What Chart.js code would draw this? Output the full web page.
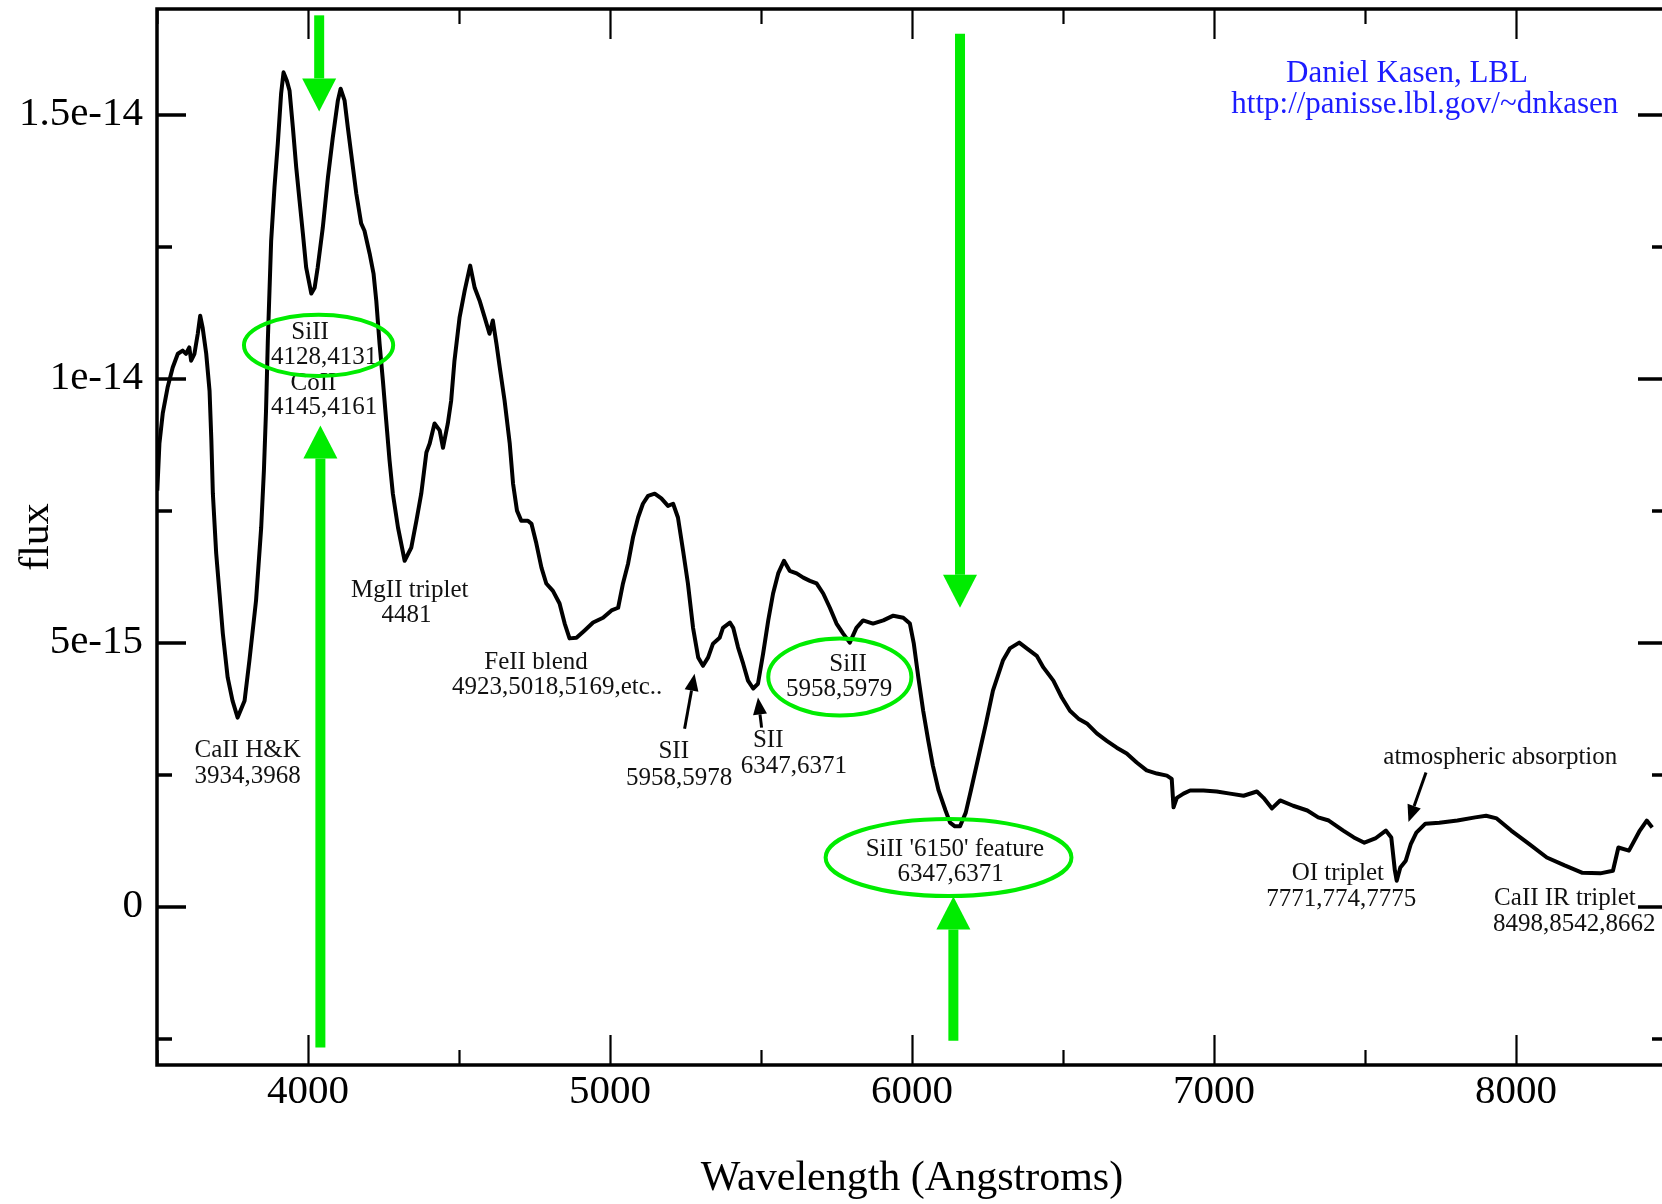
<!DOCTYPE html>
<html>
<head>
<meta charset="utf-8">
<title>Supernova spectrum</title>
<script src="https://cdn.jsdelivr.net/npm/chart.js@4.4.1/dist/chart.umd.min.js"></script>
<style>
  html, body { margin: 0; padding: 0; background: #fff; overflow: hidden; }
  canvas { display: block; }
</style>
</head>
<body>
<canvas id="spectrum" width="1670" height="1204"></canvas>
<script>
// Wavelength grid (Angstroms) and flux (in units of 1e-15)
const wavelength = [
  3501, 3508, 3519, 3535, 3552, 3569, 3585, 3596, 3607, 3613, 3624, 3635, 3643, 3651, 3663, 3674,
  3680, 3685, 3696, 3707, 3718, 3734, 3750, 3767, 3790, 3806, 3828, 3845, 3854, 3861, 3867, 3878,
  3889, 3900, 3911, 3919, 3930, 3939, 3950, 3961, 3972, 3983, 3994, 4011, 4022, 4032, 4049, 4066,
  4082, 4099, 4108, 4121, 4132, 4143, 4160, 4176, 4187, 4204, 4217, 4226, 4237, 4248, 4259, 4270,
  4281, 4298, 4320, 4342, 4359, 4375, 4392, 4403, 4419, 4436, 4447, 4463, 4474, 4485, 4502, 4519,
  4537, 4552, 4568, 4585, 4601, 4612, 4624, 4635, 4651, 4668, 4679, 4692, 4706, 4728, 4740, 4756,
  4773, 4789, 4811, 4833, 4850, 4866, 4889, 4916, 4944, 4977, 5005, 5027, 5043, 5060, 5076, 5093,
  5109, 5126, 5148, 5170, 5192, 5209, 5225, 5242, 5258, 5275, 5292, 5308, 5325, 5341, 5363, 5374,
  5397, 5408, 5424, 5441, 5457, 5474, 5490, 5507, 5524, 5540, 5557, 5576, 5595, 5618, 5640, 5662,
  5684, 5706, 5728, 5750, 5772, 5794, 5816, 5838, 5871, 5905, 5938, 5971, 5993, 6006, 6021, 6037,
  6054, 6069, 6088, 6111, 6126, 6142, 6159, 6178, 6195, 6212, 6245, 6268, 6301, 6324, 6355, 6380,
  6413, 6435, 6468, 6496, 6523, 6551, 6579, 6612, 6645, 6678, 6711, 6744, 6777, 6811, 6844, 6860,
  6866, 6877, 6899, 6921, 6965, 7009, 7053, 7098, 7142, 7164, 7192, 7219, 7262, 7309, 7345, 7380,
  7428, 7463, 7498, 7534, 7569, 7587, 7599, 7605, 7617, 7635, 7652, 7670, 7700, 7746, 7806, 7865,
  7901, 7936, 7984, 8043, 8102, 8161, 8220, 8279, 8321, 8339, 8374, 8410, 8433, 8451
];
const fluxE15 = [
  7.88, 8.77, 9.34, 9.83, 10.21, 10.47, 10.53, 10.47, 10.59, 10.34, 10.47, 10.85, 11.19, 10.97, 10.47, 9.77,
  8.83, 7.82, 6.69, 5.93, 5.17, 4.34, 3.90, 3.58, 3.90, 4.66, 5.80, 7.18, 8.26, 9.39, 10.72, 12.61,
  13.62, 14.45, 15.40, 15.80, 15.64, 15.45, 14.75, 14.00, 13.37, 12.75, 12.10, 11.61, 11.72, 12.10, 12.86, 13.81,
  14.56, 15.27, 15.49, 15.27, 14.75, 14.26, 13.50, 12.94, 12.80, 12.37, 11.99, 11.48, 10.66, 9.96, 9.20, 8.45,
  7.82, 7.18, 6.55, 6.80, 7.31, 7.82, 8.60, 8.77, 9.15, 9.02, 8.69, 9.15, 9.58, 10.34, 11.16, 11.67,
  12.14, 11.72, 11.48, 11.16, 10.85, 11.10, 10.66, 10.21, 9.58, 8.77, 8.01, 7.50, 7.31, 7.31, 7.25, 6.88,
  6.42, 6.12, 5.98, 5.74, 5.36, 5.08, 5.09, 5.23, 5.38, 5.47, 5.61, 5.66, 6.12, 6.50, 6.99, 7.37,
  7.63, 7.78, 7.82, 7.73, 7.59, 7.63, 7.37, 6.74, 6.12, 5.28, 4.72, 4.56, 4.72, 4.98, 5.09, 5.28,
  5.38, 5.28, 4.91, 4.60, 4.28, 4.13, 4.22, 4.79, 5.42, 5.93, 6.31, 6.55, 6.36, 6.31, 6.23, 6.17,
  6.12, 5.93, 5.66, 5.36, 5.17, 5.00, 5.28, 5.42, 5.36, 5.42, 5.51, 5.47, 5.36, 4.98, 4.34, 3.71,
  3.14, 2.67, 2.20, 1.82, 1.59, 1.52, 1.52, 1.78, 2.20, 2.63, 3.47, 4.09, 4.66, 4.89, 5.00, 4.89,
  4.75, 4.53, 4.28, 3.96, 3.71, 3.56, 3.47, 3.28, 3.14, 3.01, 2.90, 2.73, 2.58, 2.52, 2.48, 2.42,
  1.88, 2.06, 2.14, 2.20, 2.20, 2.18, 2.14, 2.10, 2.18, 2.06, 1.86, 2.01, 1.91, 1.82, 1.69, 1.63,
  1.44, 1.31, 1.21, 1.29, 1.44, 1.31, 0.68, 0.49, 0.74, 0.87, 1.19, 1.40, 1.57, 1.59, 1.63, 1.69,
  1.72, 1.67, 1.44, 1.19, 0.93, 0.78, 0.64, 0.63, 0.68, 1.12, 1.06, 1.44, 1.63, 1.50
];

// Axis ticks
const xTickValues = [3500, 4000, 4500, 5000, 5500, 6000, 6500, 7000, 7500, 8000, 8500];
const xTickLabels = ['', '4000', '', '5000', '', '6000', '', '7000', '', '8000', ''];
const yTickValues = [-2.5e-15, 0, 2.5e-15, 5e-15, 7.5e-15, 1e-14, 1.25e-14, 1.5e-14];
const yTickLabels = ['', '0', '', '5e-15', '', '1e-14', '', '1.5e-14'];

// Line identifications (anchor: wavelength, flux in 1e-15)
const lineNotes = [
  ['SiII', 4007, 10.87], ['4128,4131', 4053, 10.41],
  ['CoII', 4018, 9.91], ['4145,4161', 4053, 9.45],
  ['MgII triplet', 4337, 5.98], ['4481', 4326, 5.52],
  ['FeII blend', 4755, 4.63], ['4923,5018,5169,etc..', 4825, 4.15],
  ['CaII H&K', 3800, 2.95], ['3934,3968', 3800, 2.46],
  ['SII', 5211, 2.93], ['5958,5978', 5229, 2.42],
  ['SII', 5524, 3.14], ['6347,6371', 5609, 2.66],
  ['SiII', 5788, 4.59], ['5958,5979', 5759, 4.11],
  ["SiII '6150' feature", 6142, 1.08], ['6347,6371', 6128, 0.60],
  ['OI triplet', 7410, 0.62], ['7771,774,7775', 7421, 0.13],
  ['CaII IR triplet', 8162, 0.16], ['8498,8542,8662', 8193, -0.33],
  ['atmospheric absorption', 7948, 2.83]
];
const creditNotes = [
  ['Daniel Kasen, LBL', 7639, 15.78],
  ['http://panisse.lbl.gov/~dnkasen', 7698, 15.19]
];

// Highlight rings: centre wavelength, centre flux, half-width (A), half-height (1e-15)
const rings = [
  [4035, 10.63, 247, 0.58],
  [5761, 4.35, 237, 0.73],
  [6121, 0.93, 407, 0.73]
];
// Big pointers: wavelength, tail flux, tip flux
const bigArrows = [
  [4037, 16.88, 15.06],
  [4041, -2.67, 9.11],
  [6159, 16.53, 5.66],
  [6137, -2.54, 0.19]
];
// Small pointers: tail (wavelength, flux), tip (wavelength, flux)
const smallArrows = [
  [5247, 3.37, 5280, 4.41],
  [5502, 3.39, 5490, 3.96],
  [7702, 2.54, 7644, 1.60]
];

const SERIF = "'Liberation Serif', 'Times New Roman', serif";
const GREEN = 'rgb(0, 236, 0)';

const points = wavelength.map((w, i) => ({ x: w, y: fluxE15[i] * 1e-15 }));

function drawArrow(ctx, x1, y1, x2, y2, shaft, headLen, headHalf, color) {
  const ang = Math.atan2(y2 - y1, x2 - x1);
  const c = Math.cos(ang), s = Math.sin(ang);
  const bx = x2 - headLen * c, by = y2 - headLen * s;
  ctx.strokeStyle = color;
  ctx.fillStyle = color;
  ctx.lineWidth = shaft;
  ctx.lineCap = 'butt';
  ctx.beginPath();
  ctx.moveTo(x1, y1);
  ctx.lineTo(bx, by);
  ctx.stroke();
  ctx.beginPath();
  ctx.moveTo(x2, y2);
  ctx.lineTo(bx + headHalf * s, by - headHalf * c);
  ctx.lineTo(bx - headHalf * s, by + headHalf * c);
  ctx.closePath();
  ctx.fill();
}

// Box frame with inward ticks on all four sides
const framePlugin = {
  id: 'frame',
  afterDatasetsDraw(chart) {
    const { ctx, chartArea: a, scales: { x, y } } = chart;
    ctx.save();
    ctx.strokeStyle = '#000';
    ctx.lineCap = 'butt';
    ctx.lineWidth = 2.2;
    x.ticks.forEach((t, i) => {
      const px = Math.round(x.getPixelForValue(t.value)) + 0.5;
      const len = xTickLabels[i] ? 30 : 15;
      ctx.beginPath();
      ctx.moveTo(px, a.bottom); ctx.lineTo(px, a.bottom - len);
      ctx.moveTo(px, a.top); ctx.lineTo(px, a.top + len);
      ctx.stroke();
    });
    ctx.lineWidth = 3.5;
    y.ticks.forEach((t, i) => {
      const py = Math.round(y.getPixelForValue(t.value));
      const len = yTickLabels[i] ? 29 : 15;
      ctx.beginPath();
      ctx.moveTo(a.left, py); ctx.lineTo(a.left + len, py);
      ctx.moveTo(a.right, py); ctx.lineTo(a.right - len, py);
      ctx.stroke();
    });
    ctx.lineWidth = 3.5;
    ctx.strokeRect(a.left, a.top, a.right - a.left, a.bottom - a.top);
    ctx.restore();
  }
};

// Line identifications, rings and pointers
const notesPlugin = {
  id: 'notes',
  afterDatasetsDraw(chart) {
    const { ctx, scales: { x, y } } = chart;
    const px = v => x.getPixelForValue(v);
    const py = v => y.getPixelForValue(v * 1e-15);
    ctx.save();
    ctx.textAlign = 'center';
    ctx.textBaseline = 'middle';

    ctx.fillStyle = '#111';
    ctx.font = '25px ' + SERIF;
    lineNotes.forEach(([t, w, f]) => ctx.fillText(t, px(w), py(f)));

    ctx.fillStyle = '#1c1cff';
    ctx.font = '31px ' + SERIF;
    creditNotes.forEach(([t, w, f]) => ctx.fillText(t, px(w), py(f)));

    ctx.strokeStyle = GREEN;
    ctx.lineWidth = 4;
    rings.forEach(([w, f, rw, rf]) => {
      const cx = px(w), cy = py(f);
      ctx.beginPath();
      ctx.ellipse(cx, cy, px(w + rw) - cx, cy - py(f + rf), 0, 0, Math.PI * 2);
      ctx.stroke();
    });

    bigArrows.forEach(([w, f0, f1]) => {
      drawArrow(ctx, px(w), py(f0), px(w), py(f1), 10, 33, 17, GREEN);
    });
    smallArrows.forEach(([w0, f0, w1, f1]) => {
      drawArrow(ctx, px(w0), py(f0), px(w1), py(f1), 3, 17, 7, '#000');
    });
    ctx.restore();
  }
};

// Labels must not push the plot box inward: the frame sits flush with the margins
function noLabelOverflow(s) {
  s.paddingTop = 0;
  s.paddingBottom = 0;
  s.paddingLeft = 0;
  s.paddingRight = 0;
}

new Chart(document.getElementById('spectrum'), {
  type: 'line',
  data: {
    datasets: [{
      data: points,
      borderColor: '#000',
      borderWidth: 4,
      borderJoinStyle: 'round',
      pointRadius: 0,
      fill: false,
      tension: 0
    }]
  },
  options: {
    responsive: false,
    animation: false,
    devicePixelRatio: 1,
    layout: { padding: { top: 9, right: 3, left: 0, bottom: 0 } },
    plugins: { legend: { display: false }, tooltip: { enabled: false } },
    scales: {
      x: {
        type: 'linear',
        min: 3500,
        max: 8500,
        grid: { display: false, drawTicks: false },
        border: { display: false },
        afterBuildTicks: s => { s.ticks = xTickValues.map(v => ({ value: v })); },
        afterFit: s => { s.height = 139; noLabelOverflow(s); },
        ticks: {
          autoSkip: false, maxRotation: 0, padding: 3, color: '#000',
          font: { family: SERIF, size: 41 },
          callback: (v, i) => xTickLabels[i]
        },
        title: {
          display: true, text: 'Wavelength (Angstroms)', color: '#000',
          font: { family: SERIF, size: 42 }, padding: { top: 0, bottom: 0 }
        }
      },
      y: {
        type: 'linear',
        min: -3e-15,
        max: 1.7e-14,
        grid: { display: false, drawTicks: false },
        border: { display: false },
        afterBuildTicks: s => { s.ticks = yTickValues.map(v => ({ value: v })); },
        afterFit: s => { s.width = 157; noLabelOverflow(s); },
        ticks: {
          autoSkip: false, padding: 14, color: '#000',
          font: { family: SERIF, size: 41 },
          callback: (v, i) => yTickLabels[i]
        },
        title: {
          display: true, text: 'flux', color: '#000',
          font: { family: SERIF, size: 42 }, padding: { top: 12, bottom: 0 }
        }
      }
    }
  },
  plugins: [framePlugin, notesPlugin]
});
</script>
</body>
</html>
